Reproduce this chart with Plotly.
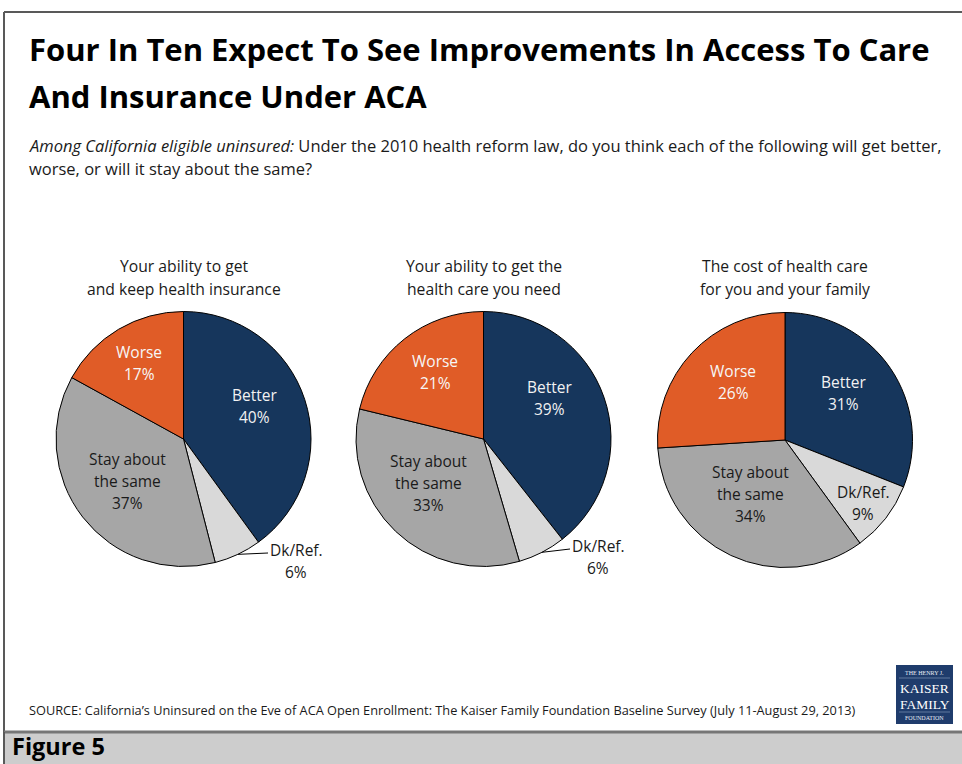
import math
import plotly.graph_objects as go

W, H = 962, 764

# ---- data -------------------------------------------------------------
categories = ["Better", "Dk/Ref.", "Stay about the same", "Worse"]
insurance_access = [40, 6, 37, 17]
care_access = [39, 6, 33, 21]
care_cost = [31, 9, 34, 26]
pie_titles = [
    ["Your ability to get", "and keep health insurance"],
    ["Your ability to get the", "health care you need"],
    ["The cost of health care", "for you and your family"],
]
label_lines = {
    "Better": ["Better"],
    "Dk/Ref.": ["Dk/Ref."],
    "Stay about the same": ["Stay about", "the same"],
    "Worse": ["Worse"],
}
series = [insurance_access, care_access, care_cost]

title_lines = [
    "Four In Ten Expect To See Improvements In Access To Care",
    "And Insurance Under ACA",
]
subtitle_lines = [
    "<i>Among California eligible uninsured:</i> Under the 2010 health reform law, "
    "do you think each of the following will get better,",
    "worse, or will it stay about the same?",
]
source_text = ("SOURCE: California\u2019s Uninsured on the Eve of ACA Open Enrollment: "
               "The Kaiser Family Foundation Baseline Survey (July 11-August 29, 2013)")

# ---- styling ----------------------------------------------------------
FONT = "Open Sans"
slice_colors = ["#16365C", "#D9D9D9", "#A6A6A6", "#E05C27"]
label_colors = {"Better": "#F2F2F2", "Dk/Ref.": "#1A1A1A",
                "Stay about the same": "#1A1A1A", "Worse": "#F7F7F7"}

# pie centres / radius in pixels
pie_cx = [183.5, 483.5, 785.0]
pie_cy = [439.0, 439.0, 440.0]
pie_r = 127.5

# label block positions (centre x, centre y of first line) per pie
label_pos = [
    {"Better": (254, 395), "Worse": (139, 352), "Stay about the same": (127, 459),
     "Dk/Ref.": (296, 550)},
    {"Better": (549, 387), "Worse": (435, 361), "Stay about the same": (428, 461),
     "Dk/Ref.": (598, 546)},
    {"Better": (843, 382), "Worse": (733, 371), "Stay about the same": (750, 472),
     "Dk/Ref.": (863, 492)},
]
outside_dk = [True, True, False]
LINE_GAP = 22.0
LABEL_SIZE = 15.5


def px(x):
    return x / W


def py(y):
    return 1 - y / H


fig = go.Figure()
annotations = []
shapes = []


def text_block(lines, x, y, size, color="#000000", xanchor="center",
               gap=None, family=FONT, weight=None, yanchor="middle", yshift=0):
    gap = gap if gap is not None else size * 1.35
    for i, line in enumerate(lines):
        f = dict(family=family, size=size, color=color)
        if weight:
            f["weight"] = weight
        annotations.append(dict(
            x=px(x), y=py(y + i * gap), xref="paper", yref="paper",
            text=line, showarrow=False, xanchor=xanchor, yanchor=yanchor,
            yshift=yshift, font=f,
            align="center" if xanchor == "center" else xanchor,
        ))


for k, values in enumerate(series):
    cx, cy = pie_cx[k], pie_cy[k]
    fig.add_trace(go.Pie(
        labels=categories, values=values, sort=False, direction="clockwise",
        rotation=0, textinfo="none", hoverinfo="skip", showlegend=False,
        marker=dict(colors=slice_colors, line=dict(color="#000000", width=1)),
        domain=dict(x=[px(cx - pie_r), px(cx + pie_r)],
                    y=[py(cy + pie_r), py(cy - pie_r)]),
    ))
    # chart title above each pie
    text_block(pie_titles[k], cx, 266, 15.7, "#1A1A1A", gap=23)

    total = sum(values)
    start = 0.0
    for cat, v in zip(categories, values):
        mid = start + v / 2
        start += v
        lx, ly = label_pos[k][cat]
        text_block(label_lines[cat] + [f"{v}%"], lx, ly, LABEL_SIZE,
                   label_colors[cat], gap=LINE_GAP)
        if cat == "Dk/Ref." and outside_dk[k]:
            theta = 2 * math.pi * mid / total
            sx = cx + pie_r * math.sin(theta)
            sy = cy - pie_r * math.cos(theta)
            ex = lx - 28
            ey = ly + 3
            shapes.append(dict(type="line", xref="paper", yref="paper",
                               x0=px(sx), y0=py(sy), x1=px(ex), y1=py(ey),
                               line=dict(color="#000000", width=1)))

# headline and question
text_block(title_lines, 27, 49, 31.0, "#000000", xanchor="left", gap=47,
           weight=700)
text_block(subtitle_lines, 27, 145, 16.5, "#1A1A1A", xanchor="left", gap=24)
text_block([source_text], 27, 710, 12.75, "#1A1A1A", xanchor="left")

# frame: top and left rule, footer band
shapes += [
    dict(type="line", xref="paper", yref="paper", x0=px(4), x1=1,
         y0=py(12), y1=py(12), line=dict(color="#595959", width=2)),
    dict(type="line", xref="paper", yref="paper", x0=px(4), x1=px(4),
         y0=py(12), y1=0, line=dict(color="#595959", width=2)),
    dict(type="rect", xref="paper", yref="paper", x0=px(4), x1=1,
         y0=0, y1=py(732), fillcolor="#CDCDCD", line=dict(width=0)),
    dict(type="line", xref="paper", yref="paper", x0=px(4), x1=1,
         y0=py(732), y1=py(732), line=dict(color="#767676", width=3)),
    dict(type="line", xref="paper", yref="paper", x0=px(4), x1=px(4),
         y0=py(732), y1=0, line=dict(color="#595959", width=2)),
]
text_block(["Figure 5"], 10, H, 23.5, "#000000", xanchor="left", weight=700,
           yanchor="bottom")

# foundation logo
LX0, LX1, LY0, LY1 = 896, 953, 665, 724
shapes += [
    dict(type="rect", xref="paper", yref="paper", x0=px(LX0), x1=px(LX1),
         y0=py(LY1), y1=py(LY0), fillcolor="#1F3C6C", line=dict(width=0)),
    dict(type="line", xref="paper", yref="paper", x0=px(LX0 + 3), x1=px(LX1 - 3),
         y0=py(678), y1=py(678), line=dict(color="#8FA3C4", width=0.6)),
    dict(type="line", xref="paper", yref="paper", x0=px(LX0 + 3), x1=px(LX1 - 3),
         y0=py(712), y1=py(712), line=dict(color="#8FA3C4", width=0.6)),
]
lx = (LX0 + LX1) / 2
text_block(["THE HENRY J."], lx, 672.5, 6, "#E8ECF4", family="Liberation Serif")
text_block(["KAISER"], lx, 688, 13.5, "#FFFFFF", family="Liberation Serif")
text_block(["FAMILY"], lx, 704, 13.5, "#FFFFFF", family="Liberation Serif")
text_block(["FOUNDATION"], lx, 718, 6, "#E8ECF4", family="Liberation Serif")

fig.update_layout(
    width=W, height=H, margin=dict(l=0, r=0, t=0, b=0),
    paper_bgcolor="#FFFFFF", plot_bgcolor="#FFFFFF",
    annotations=annotations, shapes=shapes,
)

fig.write_html("out.html")
